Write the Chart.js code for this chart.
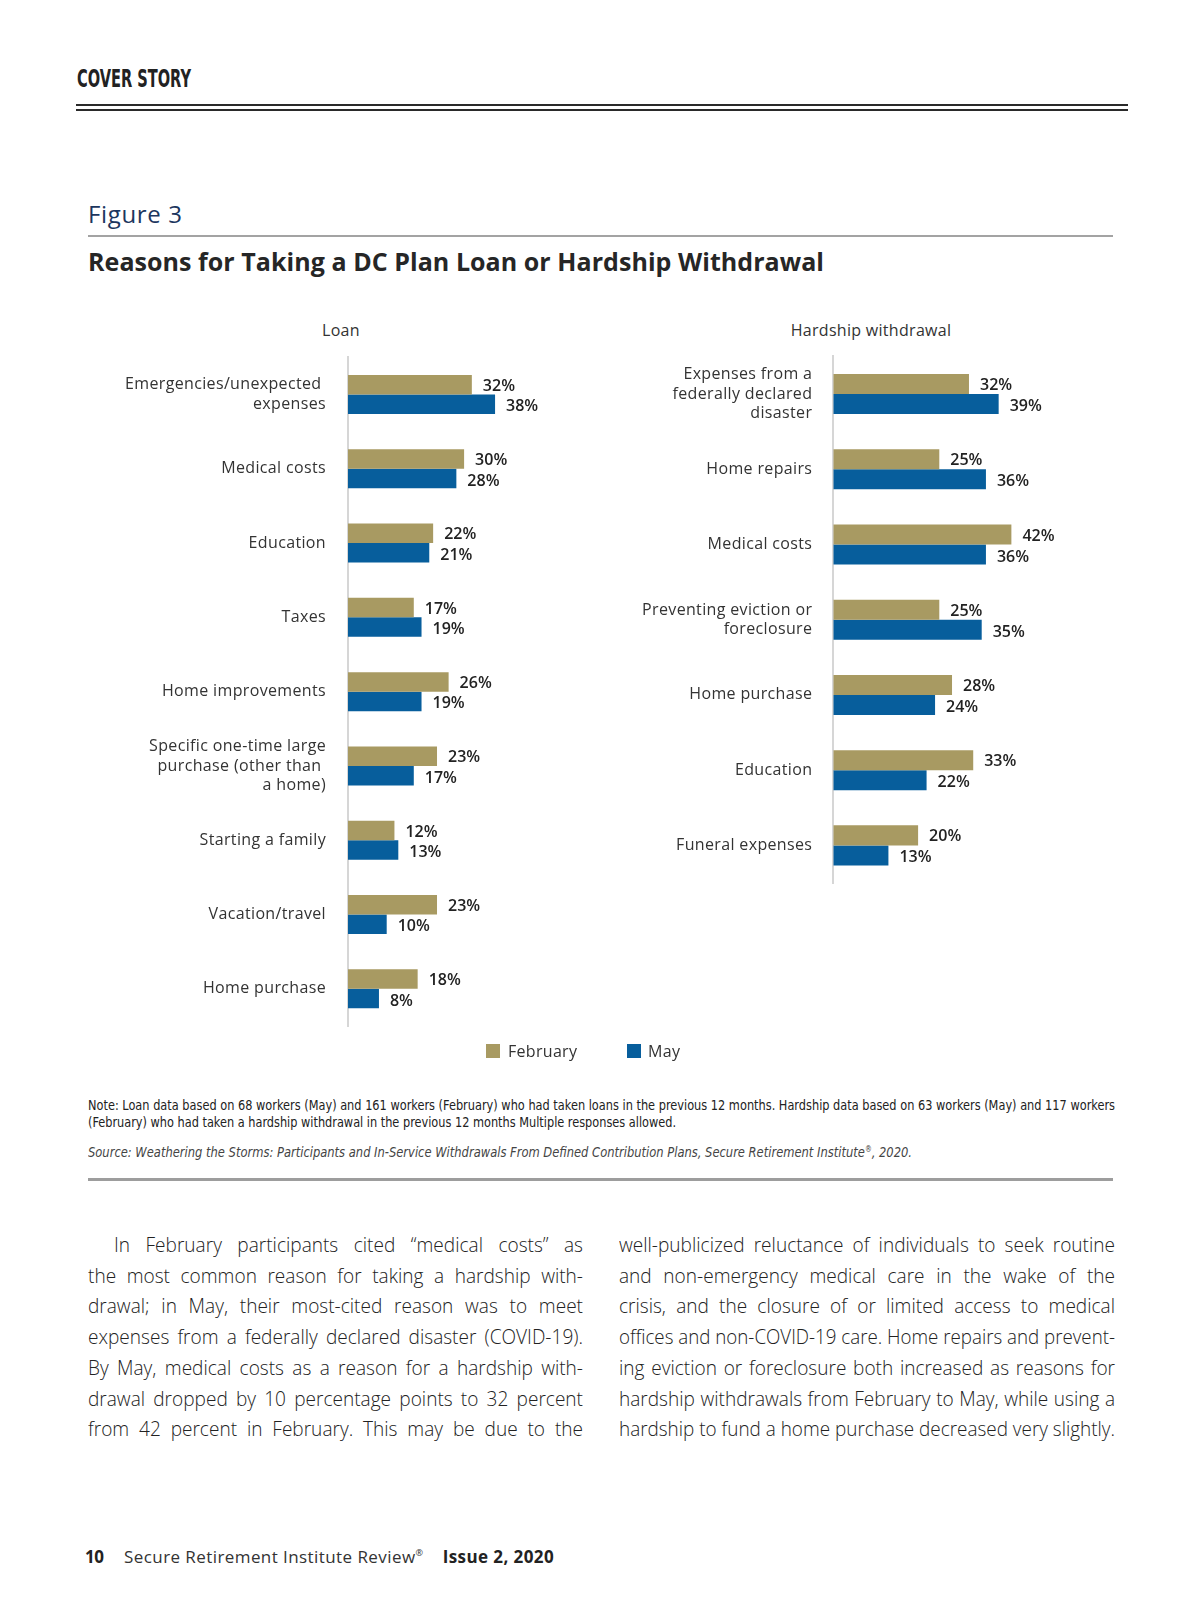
<!DOCTYPE html>
<html><head><meta charset="utf-8">
<script src="https://cdn.jsdelivr.net/npm/chart.js@4.4.1/dist/chart.umd.min.js"></script>
<style>
html,body{margin:0;padding:0;background:#fff;}
#page{position:relative;width:1200px;height:1606px;overflow:hidden;font-family:"Open Sans",sans-serif;color:#333;background:#fff;}
.t{position:absolute;white-space:nowrap;}
.fit{display:inline-block;white-space:nowrap;transform-origin:0 50%;}
.rule{position:absolute;}
canvas{position:absolute;}
.narrow{font-family:"Liberation Sans Narrow","DejaVu Sans Condensed","Arial Narrow","Open Sans",sans-serif;}
.body{font-family:"Open Sans",sans-serif;font-weight:300;font-size:20.5px;color:#222;line-height:30px;height:30px;}
.sq{position:absolute;width:14px;height:14px;}
</style></head>
<body><div id="page">

<div class="t narrow" style="left:77px;top:64px;line-height:30px;font-size:24px;font-weight:700;color:#222;"><span class="fit" data-fit="sx" data-w="114">COVER STORY</span></div>
<div class="rule" style="left:76px;top:103.5px;width:1052px;height:2px;background:#2a2a2a;"></div>
<div class="rule" style="left:76px;top:108.8px;width:1052px;height:2px;background:#2a2a2a;"></div>

<div class="t" style="left:88px;top:198px;line-height:32px;font-size:24px;font-weight:500;color:#1c365e;"><span class="fit" data-fit="ls" data-w="94">Figure 3</span></div>
<div class="rule" style="left:88px;top:235px;width:1025px;height:2px;background:#a3a3a3;"></div>
<div class="t" style="left:88px;top:244px;line-height:34px;font-size:25px;font-weight:700;color:#262626;"><span class="fit" data-fit="ls" data-w="736">Reasons for Taking a DC Plan Loan or Hardship Withdrawal</span></div>

<div class="t" style="left:241px;width:200px;text-align:center;top:318.5px;line-height:22px;font-size:16px;color:#333;letter-spacing:0.3px;">Loan</div>
<div class="t" style="left:771px;width:200px;text-align:center;top:318.5px;line-height:22px;font-size:16px;color:#333;letter-spacing:0.3px;">Hardship withdrawal</div>

<canvas id="loanChart" width="480" height="780" style="left:80px;top:300px;width:480px;height:780px;"></canvas>
<canvas id="hardChart" width="540" height="640" style="left:600px;top:300px;width:540px;height:640px;"></canvas>

<div class="sq" id="sqFeb" style="left:486px;top:1044px;"></div>
<div class="t" style="left:508px;top:1040px;line-height:22px;font-size:16px;color:#333;letter-spacing:0.3px;">February</div>
<div class="sq" id="sqMay" style="left:627px;top:1044px;"></div>
<div class="t" style="left:648px;top:1040px;line-height:22px;font-size:16px;color:#333;letter-spacing:0.3px;">May</div>

<div class="t narrow" style="left:88px;top:1095.5px;line-height:18px;font-size:13.5px;color:#222;"><span class="fit" data-fit="sx" data-w="1027">Note: Loan data based on 68 workers (May) and 161 workers (February) who had taken loans in the previous 12 months. Hardship data based on 63 workers (May) and 117 workers</span></div>
<div class="t narrow" style="left:88px;top:1113px;line-height:18px;font-size:13.5px;color:#222;"><span class="fit" data-fit="sx" data-w="588">(February) who had taken a hardship withdrawal in the previous 12 months Multiple responses allowed.</span></div>
<div class="t narrow" style="left:88px;top:1142.6px;line-height:18px;font-size:13.5px;color:#444;font-style:italic;"><span class="fit" data-fit="sx" data-w="824">Source: Weathering the Storms: Participants and In-Service Withdrawals From Defined Contribution Plans, Secure Retirement Institute<sup style="font-size:8px;line-height:0;">®</sup>, 2020.</span></div>
<div class="rule" style="left:88px;top:1178px;width:1025px;height:3px;background:#9d9d9d;"></div>

<div class="t body" style="left:113.7px;top:1229px;"><span class="fit" data-fit="ws" data-sx="0.93" data-w="469">In February participants cited “medical costs” as</span></div>
<div class="t body" style="left:88px;top:1259.6px;"><span class="fit" data-fit="ws" data-sx="0.93" data-w="495">the most common reason for taking a hardship with-</span></div>
<div class="t body" style="left:88px;top:1290.3px;"><span class="fit" data-fit="ws" data-sx="0.93" data-w="495">drawal; in May, their most-cited reason was to meet</span></div>
<div class="t body" style="left:88px;top:1321px;"><span class="fit" data-fit="ws" data-sx="0.93" data-w="495">expenses from a federally declared disaster (COVID-19).</span></div>
<div class="t body" style="left:88px;top:1351.8px;"><span class="fit" data-fit="ws" data-sx="0.93" data-w="495">By May, medical costs as a reason for a hardship with-</span></div>
<div class="t body" style="left:88px;top:1382.5px;"><span class="fit" data-fit="ws" data-sx="0.93" data-w="495">drawal dropped by 10 percentage points to 32 percent</span></div>
<div class="t body" style="left:88px;top:1413.3px;"><span class="fit" data-fit="ws" data-sx="0.93" data-w="495">from 42 percent in February. This may be due to the</span></div>

<div class="t body" style="left:619px;top:1229px;"><span class="fit" data-fit="ws" data-sx="0.93" data-w="496">well-publicized reluctance of individuals to seek routine</span></div>
<div class="t body" style="left:619px;top:1259.6px;"><span class="fit" data-fit="ws" data-sx="0.93" data-w="496">and non-emergency medical care in the wake of the</span></div>
<div class="t body" style="left:619px;top:1290.3px;"><span class="fit" data-fit="ws" data-sx="0.93" data-w="496">crisis, and the closure of or limited access to medical</span></div>
<div class="t body" style="left:619px;top:1321px;"><span class="fit" data-fit="ws" data-sx="0.93" data-w="496">offices and non-COVID-19 care. Home repairs and prevent-</span></div>
<div class="t body" style="left:619px;top:1351.8px;"><span class="fit" data-fit="ws" data-sx="0.93" data-w="496">ing eviction or foreclosure both increased as reasons for</span></div>
<div class="t body" style="left:619px;top:1382.5px;"><span class="fit" data-fit="ws" data-sx="0.93" data-w="496">hardship withdrawals from February to May, while using a</span></div>
<div class="t body" style="left:619px;top:1413.3px;"><span class="fit" data-fit="ws" data-sx="0.93" data-w="496">hardship to fund a home purchase decreased very slightly.</span></div>

<div class="t" style="left:85px;top:1545px;line-height:24px;font-size:17px;font-weight:700;color:#222;"><span class="fit" data-fit="ls" data-w="19">10</span></div>
<div class="t" style="left:124px;top:1545px;line-height:24px;font-size:17px;color:#333;"><span class="fit" data-fit="ls" data-w="299">Secure Retirement Institute Review<sup style="font-size:9px;line-height:0;">®</sup></span></div>
<div class="t" style="left:442.7px;top:1545px;line-height:24px;font-size:17px;font-weight:700;color:#222;"><span class="fit" data-fit="ls" data-w="111">Issue 2, 2020</span></div>

</div>
<script>
// ---- Data ----
const loanCategories = [["Emergencies/unexpected ", "expenses"], "Medical costs", "Education", "Taxes", "Home improvements", ["Specific one-time large", "purchase (other than ", "a home)"], "Starting a family", "Vacation/travel", "Home purchase"];
const loanFebruary = [32, 30, 22, 17, 26, 23, 12, 23, 18];
const loanMay = [38, 28, 21, 19, 19, 17, 13, 10, 8];

const hardshipCategories = [["Expenses from a", "federally declared", "disaster"], "Home repairs", "Medical costs", ["Preventing eviction or", "foreclosure"], "Home purchase", "Education", "Funeral expenses"];
const hardshipFebruary = [32, 25, 42, 25, 28, 33, 20];
const hardshipMay = [39, 36, 36, 35, 24, 22, 13];

const seriesNames = ["February", "May"];

// ---- Styles ----
const FEB_COLOR = '#a89a62';
const MAY_COLOR = '#075e9c';
document.getElementById('sqFeb').style.background = FEB_COLOR;
document.getElementById('sqMay').style.background = MAY_COLOR;

const trackPlugin = {
  id: 'track',
  beforeLayout(chart) { chart.ctx.letterSpacing = '0.35px'; },
  beforeDraw(chart) { chart.ctx.letterSpacing = '0.35px'; }
};

const valueLabelPlugin = {
  id: 'valueLabels',
  afterDatasetsDraw(chart) {
    const ctx = chart.ctx;
    ctx.save();
    ctx.letterSpacing = '0px';
    ctx.font = '600 16px "Open Sans"';
    ctx.fillStyle = '#222';
    ctx.textBaseline = 'middle';
    ctx.textAlign = 'left';
    chart.data.datasets.forEach((ds, i) => {
      const meta = chart.getDatasetMeta(i);
      meta.data.forEach((el, j) => {
        ctx.fillText(ds.data[j] + '%', el.x + 11, el.y + (i === 0 ? 1.5 : 2.5));
      });
    });
    ctx.restore();
  }
};

function makeChart(id, labels, feb, may, o) {
  return new Chart(document.getElementById(id), {
    type: 'bar',
    data: {
      labels: labels,
      datasets: [
        { label: seriesNames[0], data: feb, backgroundColor: FEB_COLOR, categoryPercentage: o.cat, barPercentage: 1, borderWidth: 0 },
        { label: seriesNames[1], data: may, backgroundColor: MAY_COLOR, categoryPercentage: o.cat, barPercentage: 1, borderWidth: 0 }
      ]
    },
    options: {
      indexAxis: 'y',
      responsive: false,
      animation: false,
      layout: { padding: { left: 0, right: o.padR, top: o.padT, bottom: o.padB } },
      plugins: { legend: { display: false }, tooltip: { enabled: false }, title: { display: false } },
      scales: {
        x: { display: false, min: 0, max: o.max },
        y: {
          afterFit(scale) { scale.width = o.yw; scale.paddingTop = 0; scale.paddingBottom = 0; },
          grid: { display: true, color: 'rgba(0,0,0,0)', drawTicks: false },
          border: { display: true, color: '#d6d6d6', width: 2 },
          ticks: { padding: o.tp, color: '#333', autoSkip: false, font: { family: '"Open Sans"', size: 16, lineHeight: 1.2 } }
        }
      }
    },
    plugins: [trackPlugin, valueLabelPlugin]
  });
}

function fitTexts() {
  document.querySelectorAll('.fit').forEach(el => {
    const target = parseFloat(el.dataset.w);
    const mode = el.dataset.fit;
    const w = el.getBoundingClientRect().width;
    const txt = el.textContent;
    if (mode === 'ls') {
      const n = Math.max(1, txt.length - 1);
      el.style.letterSpacing = ((target - w) / n) + 'px';
    } else if (mode === 'sx') {
      el.style.transform = 'scaleX(' + (target / w) + ')';
    } else if (mode === 'ws') {
      const k = parseFloat(el.dataset.sx || '1');
      const n = (txt.match(/ /g) || []).length;
      const t = target / k;
      if (w <= t && n > 0) {
        el.style.wordSpacing = ((t - w) / n) + 'px';
        el.style.transform = 'scaleX(' + k + ')';
      } else {
        el.style.transform = 'scaleX(' + (target / w) + ')';
      }
    }
  });
}

function init() {
  fitTexts();
  makeChart('loanChart', loanCategories, loanFebruary, loanMay, { cat: 0.525, padR: 57.2, padT: 57.3, padB: 54, max: 40, yw: 268, tp: 22 });
  makeChart('hardChart', hardshipCategories, hardshipFebruary, hardshipMay, { cat: 0.532, padR: 115.9, padT: 56.4, padB: 57, max: 45, yw: 233.3, tp: 21 });
}
if (document.fonts && document.fonts.ready) { document.fonts.ready.then(init); } else { init(); }
</script>
</body></html>
